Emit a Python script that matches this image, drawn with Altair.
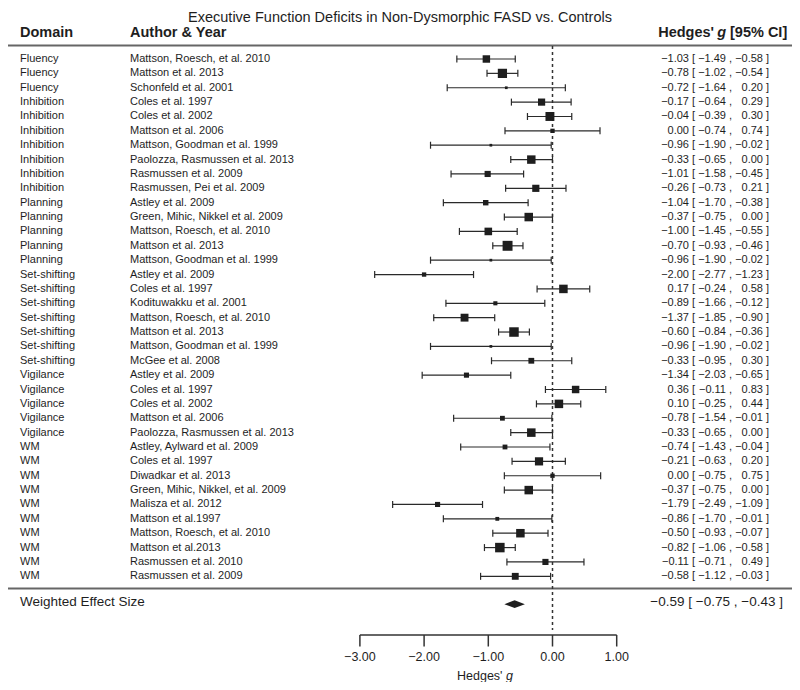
import altair as alt
import pandas as pd

# ---------------- data ----------------
domains = (["Fluency"] * 3 + ["Inhibition"] * 7 + ["Planning"] * 5 +
           ["Set-shifting"] * 7 + ["Vigilance"] * 5 + ["WM"] * 10)
authors = [
    "Mattson, Roesch, et al. 2010", "Mattson et al. 2013", "Schonfeld et al. 2001",
    "Coles et al. 1997", "Coles et al. 2002", "Mattson et al. 2006",
    "Mattson, Goodman et al. 1999", "Paolozza, Rasmussen et al. 2013",
    "Rasmussen et al. 2009", "Rasmussen, Pei et al. 2009",
    "Astley et al. 2009", "Green, Mihic, Nikkel et al. 2009",
    "Mattson, Roesch, et al. 2010", "Mattson et al. 2013", "Mattson, Goodman et al. 1999",
    "Astley et al. 2009", "Coles et al. 1997", "Kodituwakku et al. 2001",
    "Mattson, Roesch, et al. 2010", "Mattson et al. 2013", "Mattson, Goodman et al. 1999",
    "McGee et al. 2008",
    "Astley et al. 2009", "Coles et al. 1997", "Coles et al. 2002", "Mattson et al. 2006",
    "Paolozza, Rasmussen et al. 2013",
    "Astley, Aylward et al. 2009", "Coles et al. 1997", "Diwadkar et al. 2013",
    "Green, Mihic, Nikkel, et al. 2009", "Malisza et al. 2012", "Mattson et al.1997",
    "Mattson, Roesch, et al. 2010", "Mattson et al.2013", "Rasmussen et al. 2010",
    "Rasmussen et al. 2009",
]
est = [-1.03, -0.78, -0.72, -0.17, -0.04, 0.00, -0.96, -0.33, -1.01, -0.26,
       -1.04, -0.37, -1.00, -0.70, -0.96, -2.00, 0.17, -0.89, -1.37, -0.60,
       -0.96, -0.33, -1.34, 0.36, 0.10, -0.78, -0.33, -0.74, -0.21, 0.00,
       -0.37, -1.79, -0.86, -0.50, -0.82, -0.11, -0.58]
lo = [-1.49, -1.02, -1.64, -0.64, -0.39, -0.74, -1.90, -0.65, -1.58, -0.73,
      -1.70, -0.75, -1.45, -0.93, -1.90, -2.77, -0.24, -1.66, -1.85, -0.84,
      -1.90, -0.95, -2.03, -0.11, -0.25, -1.54, -0.65, -1.43, -0.63, -0.75,
      -0.75, -2.49, -1.70, -0.93, -1.06, -0.71, -1.12]
hi = [-0.58, -0.54, 0.20, 0.29, 0.30, 0.74, -0.02, 0.00, -0.45, 0.21,
      -0.38, 0.00, -0.55, -0.46, -0.02, -1.23, 0.58, -0.12, -0.90, -0.36,
      -0.02, 0.30, -0.65, 0.83, 0.44, -0.01, 0.00, -0.04, 0.20, 0.75,
      0.00, -1.09, -0.01, -0.07, -0.58, 0.49, -0.03]
weights = [53, 81, 7, 49, 76, 18, 7, 68, 36, 49, 28, 69, 55, 94, 7, 18, 69, 16,
           59, 86, 7, 32, 25, 53, 69, 22, 69, 22, 64, 18, 69, 25, 14, 69, 86, 36, 45]
pooled_est, pooled_lo, pooled_hi = -0.59, -0.75, -0.43
axis_ticks = [-3, -2, -1, 0, 1]

# ---------------- layout ----------------
W, H = 784, 674
ROW0, STEP = 51.0, 14.37
PX0, PXU = 544.5, 64.2
FONT = "Liberation Sans"
INK = "#1e1e1e"

df = pd.DataFrame({"domain": domains, "author": authors, "est": est,
                   "lo": lo, "hi": hi, "w": weights})
df["row"] = list(range(len(df)))
n = len(df)
prow = (594 - ROW0) / STEP

xscale = alt.Scale(domain=[-PX0 / PXU, (W - PX0) / PXU], nice=False, zero=False)
yscale = alt.Scale(domain=[-ROW0 / STEP, (H - ROW0) / STEP], reverse=True,
                   nice=False, zero=False)

X = lambda f: alt.X(f, scale=xscale, axis=None)
Y = lambda f: alt.Y(f, scale=yscale, axis=None)

one = alt.Data(values=[{"k": 0}])
base = alt.Chart(df)
layers = []

def fixed_text(txt, x, y, size, align="left", weight="normal", style="normal",
               baseline="middle"):
    return alt.Chart(one).mark_text(
        text=txt, font=FONT, fontSize=size, align=align, baseline=baseline,
        fontWeight=weight, fontStyle=style, color=INK
    ).encode(x=alt.value(x), y=alt.value(y))

# title and headers
layers.append(fixed_text("Executive Function Deficits in Non-Dysmorphic FASD vs. Controls",
                         392, 14, 14.5, align="center", baseline="alphabetic"))
layers.append(fixed_text("Domain", 12, 25, 14.5, weight="bold"))
layers.append(fixed_text("Author & Year", 122, 25, 14.5, weight="bold"))
layers.append(fixed_text("[95% CI]", 722, 25, 14.5, weight="bold"))
layers.append(fixed_text("g", 718, 25, 14.5, align="right", weight="bold", style="italic"))
layers.append(fixed_text("Hedges'", 706, 25, 14.5, align="right", weight="bold"))

# horizontal separators
for yy in (37.5, 580.5):
    layers.append(alt.Chart(one).mark_rule(color="#666666", strokeWidth=2).encode(
        x=alt.value(-1), x2=alt.value(W), y=alt.value(yy)))

# zero reference line
layers.append(alt.Chart(pd.DataFrame({"ref": [0]})).mark_rule(
    color="#333333", strokeWidth=1.5, strokeDash=[3, 3]).encode(
    x=X("ref:Q"), y=alt.value(38), y2=alt.value(622)))

# confidence intervals
layers.append(base.mark_rule(color="#2a2a2a", strokeWidth=1.2).encode(
    x=X("lo:Q"), x2="hi:Q", y=Y("row:Q")))
for f in ("lo", "hi"):
    layers.append(base.mark_tick(color="#2a2a2a", orient="vertical", size=7,
                                 thickness=1.2, opacity=1).encode(
        x=X(f"{f}:Q"), y=Y("row:Q")))

# squares
layers.append(base.mark_square(filled=True, color=INK, opacity=1).encode(
    x=X("est:Q"), y=Y("row:Q"),
    size=alt.Size("w:Q", scale=alt.Scale(domain=[0, 100], range=[0, 105]), legend=None)))

# pooled diamond
h = 0.27
dia = pd.DataFrame({"x": [pooled_lo, pooled_est, pooled_hi],
                    "y": [prow + 0.15, prow + 0.15 - h, prow + 0.15],
                    "y2": [prow + 0.15, prow + 0.15 + h, prow + 0.15]})
layers.append(alt.Chart(dia).mark_area(color=INK, orient="vertical", opacity=1).encode(
    x=X("x:Q"), y=Y("y:Q"), y2="y2:Q"))

# study text columns
def col_text(field=None, txt=None, x=0, align="left", fmt=None, size=11, data=base):
    kw = dict(font=FONT, fontSize=size, align=align, baseline="middle", color=INK)
    if txt is not None:
        kw["text"] = txt
    enc = dict(x=alt.value(x), y=Y("row:Q"))
    if field is not None:
        enc["text"] = alt.Text(field, format=fmt) if fmt else alt.Text(field)
    return data.mark_text(**kw).encode(**enc)

layers.append(col_text("domain:N", x=12))
layers.append(col_text("author:N", x=122))
layers.append(col_text("est:Q", x=681, align="right", fmt=".2f"))
layers.append(col_text(txt="[", x=684))
layers.append(col_text("lo:Q", x=718, align="right", fmt=".2f"))
layers.append(col_text(txt=",", x=721))
layers.append(col_text("hi:Q", x=755, align="right", fmt=".2f"))
layers.append(col_text(txt="]", x=758))

# pooled row text
pdf = alt.Chart(pd.DataFrame({"row": [prow], "est": [pooled_est], "lo": [pooled_lo],
                              "hi": [pooled_hi], "lab": ["Weighted Effect Size"]}))
layers.append(col_text("lab:N", x=12, size=13.5, data=pdf))
layers.append(col_text("est:Q", x=676.5, align="right", fmt=".2f", size=13.5, data=pdf))
layers.append(col_text(txt="[", x=680.3, size=13.5, data=pdf))
layers.append(col_text("lo:Q", x=722, align="right", fmt=".2f", size=13.5, data=pdf))
layers.append(col_text(txt=",", x=725.8, size=13.5, data=pdf))
layers.append(col_text("hi:Q", x=767.5, align="right", fmt=".2f", size=13.5, data=pdf))
layers.append(col_text(txt="]", x=771.3, size=13.5, data=pdf))

# x axis drawn through the x scale
tdf = pd.DataFrame({"t": axis_ticks})
layers.append(alt.Chart(pd.DataFrame({"a": [min(axis_ticks)], "b": [max(axis_ticks)]}))
              .mark_rule(color="#333333", strokeWidth=1.5).encode(
    x=X("a:Q"), x2="b:Q", y=alt.value(627)))
layers.append(alt.Chart(tdf).mark_rule(color="#333333", strokeWidth=1.5).encode(
    x=X("t:Q"), y=alt.value(627), y2=alt.value(638.5)))
layers.append(alt.Chart(tdf).mark_text(font=FONT, fontSize=12.5, baseline="middle",
                                       align="center", color=INK).encode(
    x=X("t:Q"), y=alt.value(649), text=alt.Text("t:Q", format=".2f")))
layers.append(fixed_text("Hedges'", 494.5, 668, 12.5, align="right"))
layers.append(fixed_text("g", 498, 668, 12.5, style="italic"))

chart = alt.layer(*layers).properties(
    width=W, height=H, padding=0, autosize=alt.AutoSizeParams(type="none")
).configure_view(stroke=None)

chart.save("out.html", embed_options={"renderer": "svg", "actions": False})
